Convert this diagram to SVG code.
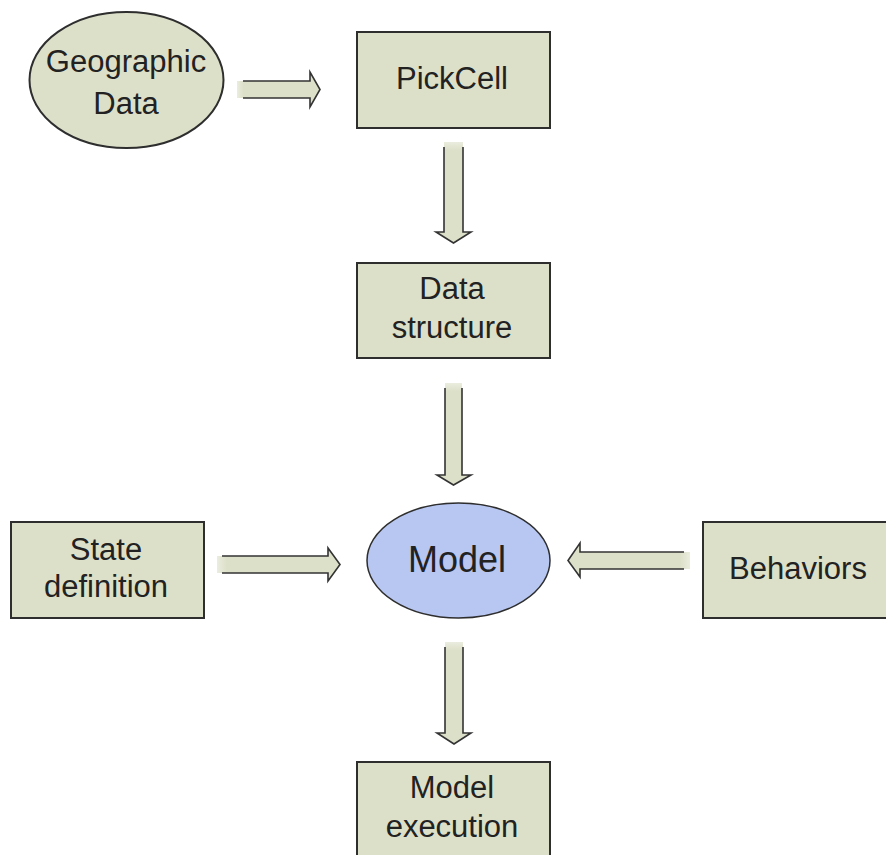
<svg xmlns="http://www.w3.org/2000/svg" width="886" height="855" viewBox="0 0 886 855">
  <defs>
    <style>
      .box { fill: #dde0c9; stroke: #2e2e2e; stroke-width: 2; }
      .model { fill: #b8c7f2; stroke: #2e2e2e; stroke-width: 1.5; }
      .lbl { font-family: "Liberation Sans", Arial, sans-serif; font-size: 31px; fill: #222; text-anchor: middle; }
      .big { font-size: 36px; }
      .arrowLine { fill: none; stroke: #333; stroke-width: 1.6; stroke-linejoin: miter; }
    </style>
    <linearGradient id="gR" x1="0" y1="0" x2="1" y2="0">
      <stop offset="0" stop-color="#dde0c9" stop-opacity="0.6"/>
      <stop offset="0.08" stop-color="#dde0c9"/>
      <stop offset="1" stop-color="#dde0c9"/>
    </linearGradient>
    <linearGradient id="gL" x1="1" y1="0" x2="0" y2="0">
      <stop offset="0" stop-color="#dde0c9" stop-opacity="0.6"/>
      <stop offset="0.08" stop-color="#dde0c9"/>
      <stop offset="1" stop-color="#dde0c9"/>
    </linearGradient>
    <linearGradient id="gD" x1="0" y1="0" x2="0" y2="1">
      <stop offset="0" stop-color="#dde0c9" stop-opacity="0.6"/>
      <stop offset="0.08" stop-color="#dde0c9"/>
      <stop offset="1" stop-color="#dde0c9"/>
    </linearGradient>
  </defs>
  <rect width="886" height="855" fill="#ffffff"/>

  <g id="connectors">
    <g id="arrow-geo-pick">
      <polygon points="237,81 310,81 310,72 320,89.5 310,107 310,98 237,98" fill="url(#gR)"/>
      <path class="arrowLine" d="M243,81 L310,81 L310,72 L320,89.5 L310,107 L310,98 L243,98"/>
    </g>
    <g id="arrow-pick-data">
      <polygon points="444,142 463,142 463,232 471,232 453.5,243 436,232 444,232" fill="url(#gD)"/>
      <path class="arrowLine" d="M444,147 L444,232 L436,232 L453.5,243 L471,232 L463,232 L463,147"/>
    </g>
    <g id="arrow-data-model">
      <polygon points="445,383 462,383 462,475 471,475 453.5,485 437,475 445,475" fill="url(#gD)"/>
      <path class="arrowLine" d="M445,388 L445,475 L437,475 L453.5,485 L471,475 L462,475 L462,388"/>
    </g>
    <g id="arrow-state-model">
      <polygon points="217,556 328,556 328,548 340,564.5 328,581 328,573 217,573" fill="url(#gR)"/>
      <path class="arrowLine" d="M222,556 L328,556 L328,548 L340,564.5 L328,581 L328,573 L222,573"/>
    </g>
    <g id="arrow-behav-model">
      <polygon points="690,552 580,552 580,543 568,560.5 580,577 580,569 690,569" fill="url(#gL)"/>
      <path class="arrowLine" d="M684,552 L580,552 L580,543 L568,560.5 L580,577 L580,569 L684,569"/>
    </g>
    <g id="arrow-model-exec">
      <polygon points="445,642 463,642 463,733 471,733 454,744 437,733 445,733" fill="url(#gD)"/>
      <path class="arrowLine" d="M445,647 L445,733 L437,733 L454,744 L471,733 L463,733 L463,647"/>
    </g>
  </g>

  <g id="node-geographic">
    <ellipse class="box" cx="126.5" cy="80" rx="97" ry="68"/>
    <text class="lbl" x="126" y="72">Geographic</text>
    <text class="lbl" x="126" y="114">Data</text>
  </g>

  <g id="node-pickcell">
    <rect class="box" x="357" y="32" width="193" height="96"/>
    <text class="lbl" x="452" y="89">PickCell</text>
  </g>

  <g id="node-datastructure">
    <rect class="box" x="357" y="263" width="193" height="95"/>
    <text class="lbl" x="452" y="299">Data</text>
    <text class="lbl" x="452" y="338">structure</text>
  </g>

  <g id="node-state">
    <rect class="box" x="11" y="522" width="193" height="96"/>
    <text class="lbl" x="106" y="560">State</text>
    <text class="lbl" x="106" y="597">definition</text>
  </g>

  <g id="node-model">
    <ellipse class="model" cx="458.5" cy="560.5" rx="91.5" ry="57.5"/>
    <text class="lbl big" x="457" y="572">Model</text>
  </g>

  <g id="node-behaviors">
    <rect class="box" x="703" y="522" width="190" height="96"/>
    <text class="lbl" x="798" y="579">Behaviors</text>
  </g>

  <g id="node-execution">
    <rect class="box" x="357" y="762" width="193" height="100"/>
    <text class="lbl" x="452" y="798">Model</text>
    <text class="lbl" x="452" y="837">execution</text>
  </g>
</svg>
